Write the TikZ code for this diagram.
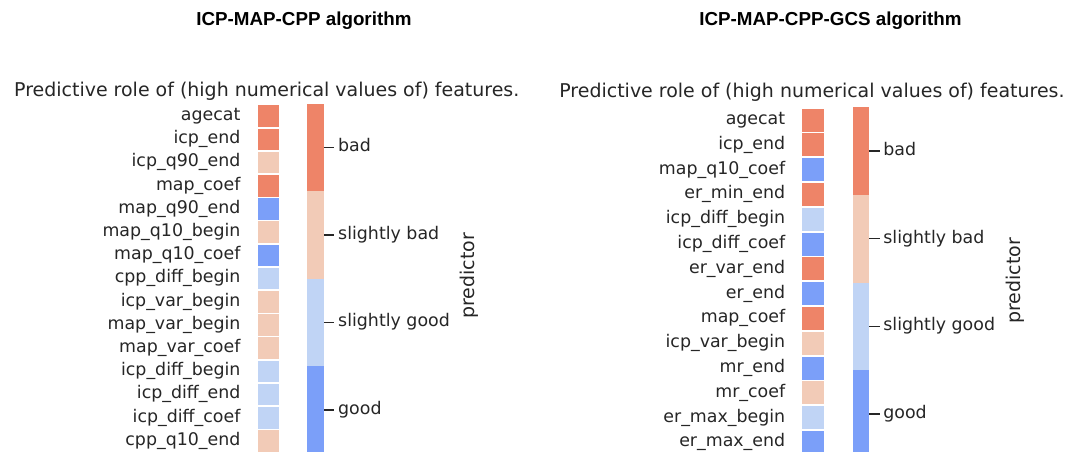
\documentclass[tikz,border=0pt]{standalone}
\usepackage{fontspec}
\setmainfont{DejaVu Sans}
\newfontfamily\headfam{Liberation Sans}
\usetikzlibrary{positioning}

\definecolor{bad}{HTML}{EE8468}
\definecolor{slbad}{HTML}{F2CBB7}
\definecolor{slgood}{HTML}{C0D4F5}
\definecolor{good}{HTML}{7B9FF9}
\definecolor{axtext}{HTML}{262626}

\tikzset{
  feat/.style={text=axtext, inner sep=0pt, font=\fontsize{9.9}{12}\selectfont, text height=0.73em, text depth=0.24em},
  featl/.style={feat, xshift=-0.33cm},
  lcell/.style={fill=#1, inner sep=0pt, minimum width=0.426cm, minimum height=0.432cm},
  rcell/.style={fill=#1, inner sep=0pt, minimum width=0.434cm, minimum height=0.46cm},
  lseg/.style={fill=#1, inner sep=0pt, minimum width=0.344cm, minimum height=1.75cm},
  rseg/.style={fill=#1, inner sep=0pt, minimum width=0.31cm, minimum height=1.754cm},
  ticklab/.style={feat, inner xsep=0.07cm},
  tick/.style={draw=axtext, line width=0.85pt},
  ptitle/.style={text=axtext, inner sep=0pt, font=\fontsize{10.8}{13}\selectfont},
  head/.style={inner sep=0pt, font=\headfam\bfseries\fontsize{10.7}{13}\selectfont}
}

\begin{document}
\begin{tikzpicture}[x=0.02cm, y=-0.02cm]
    \path[use as bounding box, fill=white] (0,0) rectangle (1079,452);

    % Headings
    \node[head, anchor=base west] (lhead) at (196,25.7) {ICP-MAP-CPP algorithm};
    \node[head, anchor=base west] (rhead) at (699,25.7) {ICP-MAP-CPP-GCS algorithm};

    % Panel titles
    \node[ptitle, anchor=base west] (ltitle) at (13.8,96.5) {Predictive role of (high numerical values of) features.};
    \node[ptitle, anchor=base west] (rtitle) at (559,98) {Predictive role of (high numerical values of) features.};

    % Left panel: features
    \node[lcell=bad, label={[featl]left:agecat}] (la1) at (268.25,116.2) {};
    \node[lcell=bad, label={[featl]left:icp\_end}] (la2) at (268.25,139.4) {};
    \node[lcell=slbad, label={[featl]left:icp\_q90\_end}] (la3) at (268.25,162.6) {};
    \node[lcell=bad, label={[featl]left:map\_coef}] (la4) at (268.25,185.8) {};
    \node[lcell=good, label={[featl]left:map\_q90\_end}] (la5) at (268.25,209.0) {};
    \node[lcell=slbad, label={[featl]left:map\_q10\_begin}] (la6) at (268.25,232.2) {};
    \node[lcell=good, label={[featl]left:map\_q10\_coef}] (la7) at (268.25,255.4) {};
    \node[lcell=slgood, label={[featl]left:cpp\_diff\_begin}] (la8) at (268.25,278.6) {};
    \node[lcell=slbad, label={[featl]left:icp\_var\_begin}] (la9) at (268.25,301.8) {};
    \node[lcell=slbad, label={[featl]left:map\_var\_begin}] (la10) at (268.25,325.0) {};
    \node[lcell=slbad, label={[featl]left:map\_var\_coef}] (la11) at (268.25,348.2) {};
    \node[lcell=slgood, label={[featl]left:icp\_diff\_begin}] (la12) at (268.25,371.4) {};
    \node[lcell=slgood, label={[featl]left:icp\_diff\_end}] (la13) at (268.25,394.6) {};
    \node[lcell=slgood, label={[featl]left:icp\_diff\_coef}] (la14) at (268.25,417.8) {};
    \node[lcell=slbad, label={[featl]left:cpp\_q10\_end}] (la15) at (268.25,441.0) {};

    % Left panel: colour bar
    \node[lseg=bad] (lbad) at (315.1,147.45) {};
    \node[lseg=slbad] (lslbad) at (315.1,234.95) {};
    \node[lseg=slgood] (lslgood) at (315.1,322.45) {};
    \node[lseg=good] (lgood) at (315.1,409.95) {};
    \node[ticklab, right=0.206cm of lbad] (lbadlab) {bad};
    \node[ticklab, right=0.206cm of lslbad] (lslbadlab) {slightly bad};
    \node[ticklab, right=0.206cm of lslgood] (lslgoodlab) {slightly good};
    \node[ticklab, right=0.206cm of lgood] (lgoodlab) {good};
    \draw[tick] (lbad.east) -- (lbadlab.west);
    \draw[tick] (lslbad.east) -- (lslbadlab.west);
    \draw[tick] (lslgood.east) -- (lslgoodlab.west);
    \draw[tick] (lgood.east) -- (lgoodlab.west);
    \node[ptitle, rotate=90] (lpred) at (469,276) {predictor};

    % Right panel: features
    \node[rcell=bad, label={[featl]left:agecat}] (ra1) at (813.25,120.1) {};
    \node[rcell=bad, label={[featl]left:icp\_end}] (ra2) at (813.25,144.9) {};
    \node[rcell=good, label={[featl]left:map\_q10\_coef}] (ra3) at (813.25,169.7) {};
    \node[rcell=bad, label={[featl]left:er\_min\_end}] (ra4) at (813.25,194.5) {};
    \node[rcell=slgood, label={[featl]left:icp\_diff\_begin}] (ra5) at (813.25,219.3) {};
    \node[rcell=good, label={[featl]left:icp\_diff\_coef}] (ra6) at (813.25,244.1) {};
    \node[rcell=bad, label={[featl]left:er\_var\_end}] (ra7) at (813.25,268.9) {};
    \node[rcell=good, label={[featl]left:er\_end}] (ra8) at (813.25,293.7) {};
    \node[rcell=bad, label={[featl]left:map\_coef}] (ra9) at (813.25,318.5) {};
    \node[rcell=slbad, label={[featl]left:icp\_var\_begin}] (ra10) at (813.25,343.3) {};
    \node[rcell=good, label={[featl]left:mr\_end}] (ra11) at (813.25,368.1) {};
    \node[rcell=slbad, label={[featl]left:mr\_coef}] (ra12) at (813.25,392.9) {};
    \node[rcell=slgood, label={[featl]left:er\_max\_begin}] (ra13) at (813.25,417.7) {};
    \node[rcell=good, label={[featl]left:er\_max\_end}] (ra14) at (813.25,442.5) {};

    % Right panel: colour bar
    \node[rseg=bad] (rbad) at (861.15,151.05) {};
    \node[rseg=slbad] (rslbad) at (861.15,238.75) {};
    \node[rseg=slgood] (rslgood) at (861.15,326.45) {};
    \node[rseg=good] (rgood) at (861.15,414.15) {};
    \node[ticklab, right=0.206cm of rbad] (rbadlab) {bad};
    \node[ticklab, right=0.206cm of rslbad] (rslbadlab) {slightly bad};
    \node[ticklab, right=0.206cm of rslgood] (rslgoodlab) {slightly good};
    \node[ticklab, right=0.206cm of rgood] (rgoodlab) {good};
    \draw[tick] (rbad.east) -- (rbadlab.west);
    \draw[tick] (rslbad.east) -- (rslbadlab.west);
    \draw[tick] (rslgood.east) -- (rslgoodlab.west);
    \draw[tick] (rgood.east) -- (rgoodlab.west);
    \node[ptitle, rotate=90] (rpred) at (1015.2,281) {predictor};
\end{tikzpicture}
\end{document}
